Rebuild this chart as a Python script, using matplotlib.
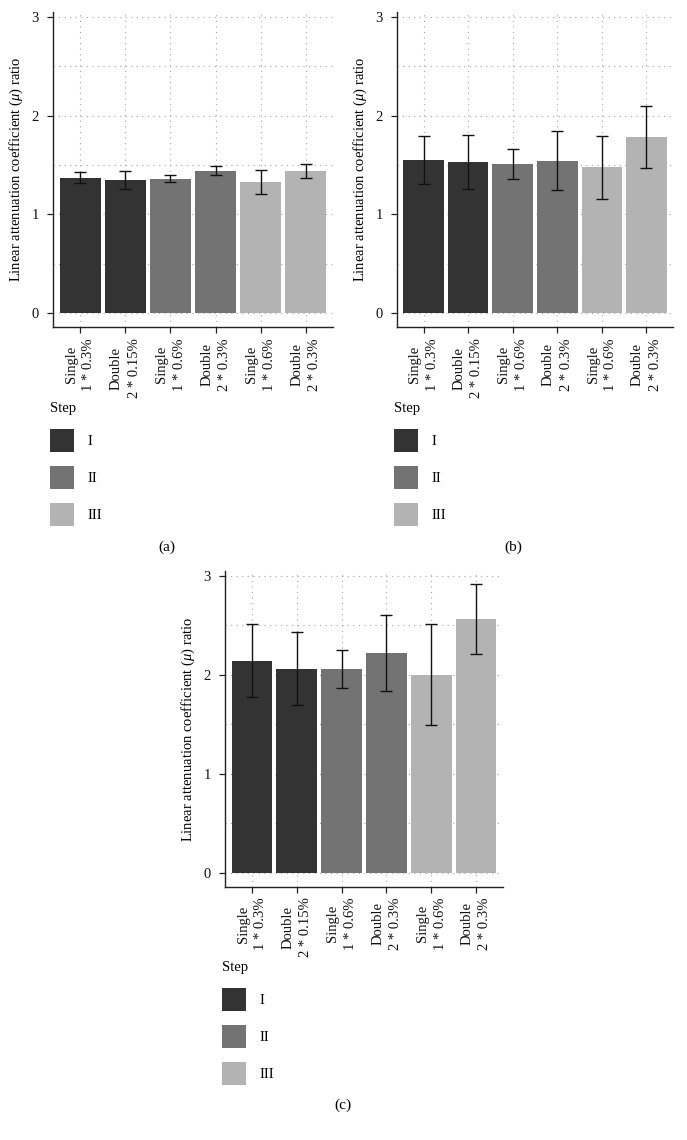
import matplotlib
matplotlib.use("Agg")
import matplotlib.pyplot as plt
from matplotlib.patches import Patch

plt.rcParams['font.family'] = ['Liberation Serif', 'DejaVu Serif']
plt.rcParams['mathtext.fontset'] = 'custom'
plt.rcParams['mathtext.rm'] = 'Liberation Serif'
plt.rcParams['mathtext.it'] = 'Liberation Serif:italic'

# categories and groups
categories = ["Single\n1 * 0.3%", "Double\n2 * 0.15%", "Single\n1 * 0.6%",
              "Double\n2 * 0.3%", "Single\n1 * 0.6%", "Double\n2 * 0.3%"]
steps = ["I", "I", "II", "II", "III", "III"]
step_names = ["I", "II", "III"]
step_colors = {"I": "#333333", "II": "#737373", "III": "#b3b3b3"}

# panel (a)
a_vals = [1.37, 1.345, 1.36, 1.44, 1.33, 1.44]
a_lo = [1.32, 1.26, 1.33, 1.395, 1.21, 1.37]
a_hi = [1.43, 1.435, 1.40, 1.49, 1.45, 1.51]
# panel (b)
b_vals = [1.55, 1.53, 1.51, 1.545, 1.48, 1.785]
b_lo = [1.31, 1.26, 1.36, 1.25, 1.16, 1.475]
b_hi = [1.79, 1.80, 1.66, 1.84, 1.79, 2.10]
# panel (c)
c_vals = [2.14, 2.06, 2.06, 2.22, 2.00, 2.565]
c_lo = [1.775, 1.70, 1.87, 1.84, 1.49, 2.21]
c_hi = [2.51, 2.43, 2.25, 2.605, 2.51, 2.92]

W, H = 687, 1140
fig = plt.figure(figsize=(W / 100, H / 100), dpi=100)
fs = 10.5


def panel(box, vals, lo, hi, caption, cap_xy):
    l, t, r, b = box
    ax = fig.add_axes([l / W, 1 - b / H, (r - l) / W, (b - t) / H])
    x = list(range(1, len(vals) + 1))
    cols = [step_colors[s] for s in steps]
    ax.bar(x, vals, width=0.91, color=cols, zorder=2)
    yerr = [[v - a for v, a in zip(vals, lo)], [c - v for v, c in zip(vals, hi)]]
    ax.errorbar(x, vals, yerr=yerr, fmt='none', ecolor='#111111',
                elinewidth=1.0, capsize=4.3, capthick=1.0, zorder=3)
    ax.set_xlim(0.4, 6.6)
    ax.set_ylim(-0.14, 3.05)
    ax.set_yticks([0, 1, 2, 3])
    ax.set_yticks([0.5, 1.5, 2.5], minor=True)
    ax.set_xticks(x)
    ax.set_xticklabels(categories, rotation=90, fontsize=fs, linespacing=1.45,
                       multialignment='center', va='top', ha='center')
    ax.tick_params(axis='y', which='minor', length=0)
    ax.tick_params(axis='both', which='major', length=4, width=0.9,
                   color='#222222', labelsize=fs, labelcolor='#111111')
    ax.tick_params(axis='x', pad=4)
    ax.tick_params(axis='y', pad=6)
    ax.grid(True, which='both', axis='both', color='#a5a5a5',
            linestyle=(0, (1, 4)), linewidth=0.8)
    ax.set_axisbelow(True)
    for s in ['top', 'right']:
        ax.spines[s].set_visible(False)
    for s in ['left', 'bottom']:
        ax.spines[s].set_linewidth(1.0)
        ax.spines[s].set_color('#222222')
    ax.set_ylabel(r"Linear attenuation coefficient ($\mu$) ratio",
                  fontsize=fs, labelpad=5)
    handles = [Patch(facecolor=step_colors[s], edgecolor='none') for s in step_names]
    ax.legend(handles, step_names, title="Step", loc='upper left',
              bbox_to_anchor=(l / W - 0.004, 1 - (b + 75) / H),
              bbox_transform=fig.transFigure, frameon=False,
              fontsize=fs, title_fontsize=fs, handlelength=1.65,
              handleheight=2.05, labelspacing=0.95, handletextpad=0.9,
              borderpad=0, borderaxespad=0, alignment='left')
    fig.text(cap_xy[0] / W, 1 - cap_xy[1] / H, caption, fontsize=11,
             ha='center', va='center')
    return ax


panel((53, 12, 333, 327), a_vals, a_lo, a_hi, "(a)", (167, 547))
panel((397, 12, 673, 327), b_vals, b_lo, b_hi, "(b)", (513, 547))
panel((225, 571, 503, 886.5), c_vals, c_lo, c_hi, "(c)", (343, 1105))

fig.savefig("out.png", dpi=100)
